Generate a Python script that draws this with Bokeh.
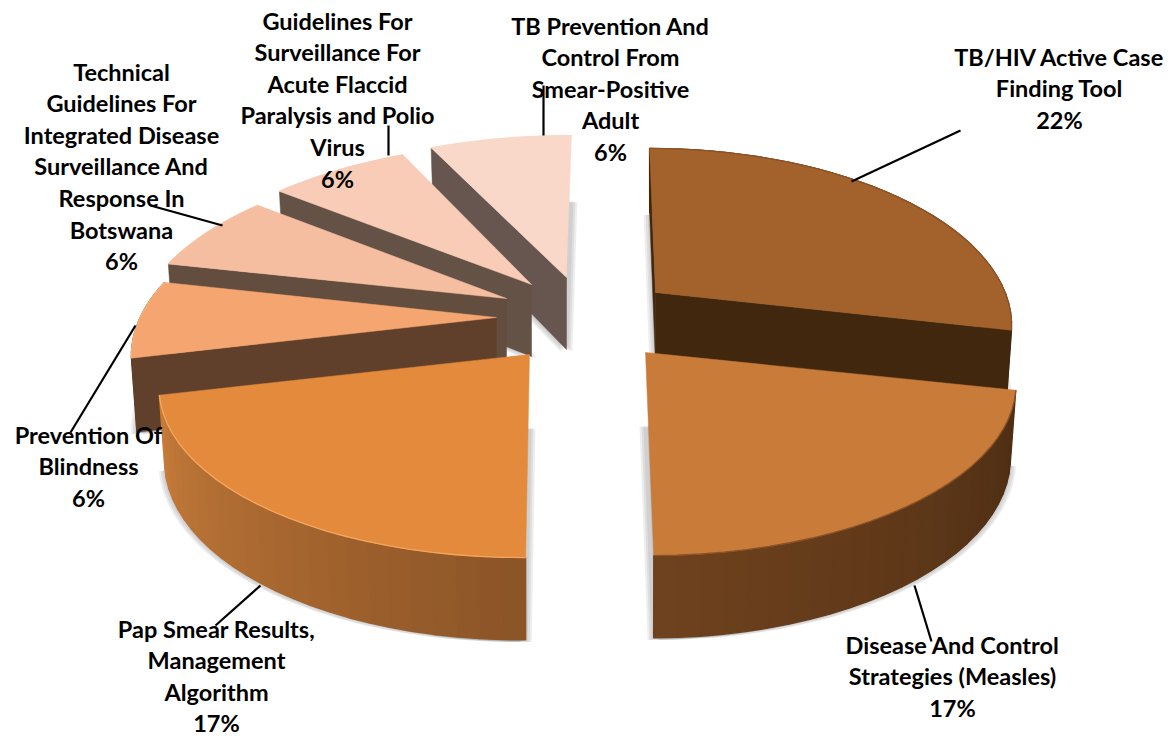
import math
from bokeh.plotting import figure
from bokeh.embed import file_html
from bokeh.resources import INLINE
from bokeh.core.properties import value

# ---- data ----
categories = [
    "TB/HIV Active Case\nFinding Tool",
    "Disease And Control\nStrategies (Measles)",
    "Pap Smear Results,\nManagement\nAlgorithm",
    "Prevention Of\nBlindness",
    "Technical\nGuidelines For\nIntegrated Disease\nSurveillance And\nResponse In\nBotswana",
    "Guidelines For\nSurveillance For\nAcute Flaccid\nParalysis and Polio\nVirus",
    "TB Prevention And\nControl From\nSmear-Positive\nAdult",
]
shares = [22.2, 16.7, 16.7, 5.6, 5.6, 5.6, 5.6]
percent_labels = ["22%", "17%", "17%", "6%", "6%", "6%", "6%"]

# ---- styling / layout ----
top_colors = ["#a3622c", "#c97b3a", "#e38a3d", "#f5a570", "#f6bea0", "#f8ccb6", "#f9d8ca"]
radial_colors = ["#42270f", "#42270f", "#8a5427", "#61402b", "#634d3f", "#655247", "#66564f"]
rim_left = ["#42270f", "#6f421e", "#c87c3a", "#61402b", "#634d3f", "#655247", "#66564f"]
rim_right = ["#42270f", "#4c2d13", "#8a5427", "#61402b", "#634d3f", "#655247", "#66564f"]
edge_colors = ["#8c5225", "#8a5226", "#f6a55e", "#f7ad79", "#f6c0a2", "#f8ccb6", "#f9d8ca"]
apexes = [(655, 292), (645, 352), (529, 354), (496, 317), (506, 298), (531, 284), (566, 277)]
scale_x = [0.945, 0.985, 0.984, 0.963, 0.98, 0.985, 1.0]
scale_y = [1.0, 1.0, 1.0, 1.0, 0.985, 0.985, 0.985]
lean_x = [614, 622, 565, 600, 600, 600, 600]
show_rim = [True, True, True, True, False, False, False]
radial_walls = [(0, 1), (), (), (0,), (0,), (0,), (0,)]  # 0: start radial wall, 1: end radial wall
draw_order = [6, 5, 4, 3, 0, 1, 2]
R, H, K, DEPTH = 370.0, 168.6, 0.17, 72.0

label_x = [1059, 952, 216, 88, 121, 337, 610]
label_top = [56, 644, 628, 434, 71, 20, 25]
line_gap = 31.6
leaders_x = [[851, 960], [914, 931], [260, 215], [135, 70], [150, 222], [388, 388], [543, 543]]
leaders_y = [[181, 130], [585, 641], [585, 625], [325, 432], [205, 225], [155, 125], [135, 85]]

p = figure(width=1169, height=738, x_range=(0, 1169), y_range=(738, 0),
           output_backend="svg", toolbar_location=None, min_border=0)
p.axis.visible = False
p.grid.visible = False
p.outline_line_color = None


def pt(i, th, r=1.0, level=0.0):
    v = -math.cos(th) * r
    u = math.sin(th) * r
    s = 1.0 / (1.0 - K * v)
    ax, ay = apexes[i]
    x = ax + (ax - lean_x[i]) * (s - 1.0) + R * scale_x[i] * u * s
    y = ay + H * scale_y[i] * v * s
    if level:
        x = x - 0.015 * (x - ax) * level
        y = y + DEPTH * (1 + 0.7 * (s - 1)) * level
    return x, y


def mix(c1, c2, t):
    a = [int(c1[k:k + 2], 16) for k in (1, 3, 5)]
    b = [int(c2[k:k + 2], 16) for k in (1, 3, 5)]
    return "#%02x%02x%02x" % tuple(round(a[k] + (b[k] - a[k]) * t) for k in range(3))


total = sum(shares)
spans = []
acc = 0.0
for s_ in shares:
    th0 = acc / total * 2 * math.pi
    acc += s_
    spans.append((th0, acc / total * 2 * math.pi))

# soft shadows below everything
for i in draw_order:
    a0, a1 = spans[i]
    n = 48
    ths = [a0 + (a1 - a0) * k / n for k in range(n + 1)]
    rim = [pt(i, t, 1, 1) for t in ths]
    ap = pt(i, a0, 0, 1)
    xs = [ap[0]] + [q[0] for q in rim]
    ys = [ap[1]] + [q[1] for q in rim]
    for dx, dy in [(-6, 2), (-4, 2), (-2, 1), (2, 1), (4, 2), (6, 2)]:
        p.patch([x + dx for x in xs], [y + dy for y in ys], fill_color="#444444",
                fill_alpha=0.09, line_color=None)

for i in draw_order:
    a0, a1 = spans[i]
    n = max(12, int((a1 - a0) / math.radians(3)))
    ths = [a0 + (a1 - a0) * k / n for k in range(n + 1)]
    if show_rim[i]:
        # outer wall as short quads, shaded across the screen
        xs_all, ys_all, cols = [], [], []
        for k in range(n):
            q1 = pt(i, ths[k]); q2 = pt(i, ths[k + 1])
            q3 = pt(i, ths[k + 1], 1, 1); q4 = pt(i, ths[k], 1, 1)
            xs_all.append([q1[0], q2[0], q3[0], q4[0]])
            ys_all.append([q1[1], q2[1], q3[1], q4[1]])
            t = (k + .5) / n
            cols.append(mix(rim_left[i], rim_right[i], 1 - t))
        p.patches(xs_all, ys_all, fill_color=cols, line_color=cols, line_width=1.3)
    # visible radial walls
    for side in radial_walls[i]:
        th = a1 if side else a0
        q1 = pt(i, th, 0); q2 = pt(i, th, 1); q3 = pt(i, th, 1, 1); q4 = pt(i, th, 0, 1)
        p.patch([q1[0], q2[0], q3[0], q4[0]], [q1[1], q2[1], q3[1], q4[1]],
                fill_color=radial_colors[i], line_color=radial_colors[i], line_width=0.5)
    # top face
    arc = [pt(i, t) for t in ths]
    c = pt(i, a0, 0)
    p.patch([c[0]] + [q[0] for q in arc], [c[1]] + [q[1] for q in arc],
            fill_color=top_colors[i], line_color=top_colors[i], line_width=0.5)
    p.line([q[0] for q in arc], [q[1] for q in arc], line_color=edge_colors[i], line_width=1.3)

for lx, ly in zip(leaders_x, leaders_y):
    p.line(lx, ly, line_color="#000000", line_width=2.2)

tx, ty, tt = [], [], []
for name, pct, cx, top in zip(categories, percent_labels, label_x, label_top):
    for j, row in enumerate(name.split("\n") + [pct]):
        tx.append(cx)
        ty.append(top + j * line_gap)
        tt.append(row)
p.text(tx, ty, text=tt, text_font=value("Lato"), text_font_style="bold", text_font_size="23.5px",
       text_color="#000000", text_align="center", text_baseline="middle")

open("out.html", "w").write(file_html(p, INLINE))
